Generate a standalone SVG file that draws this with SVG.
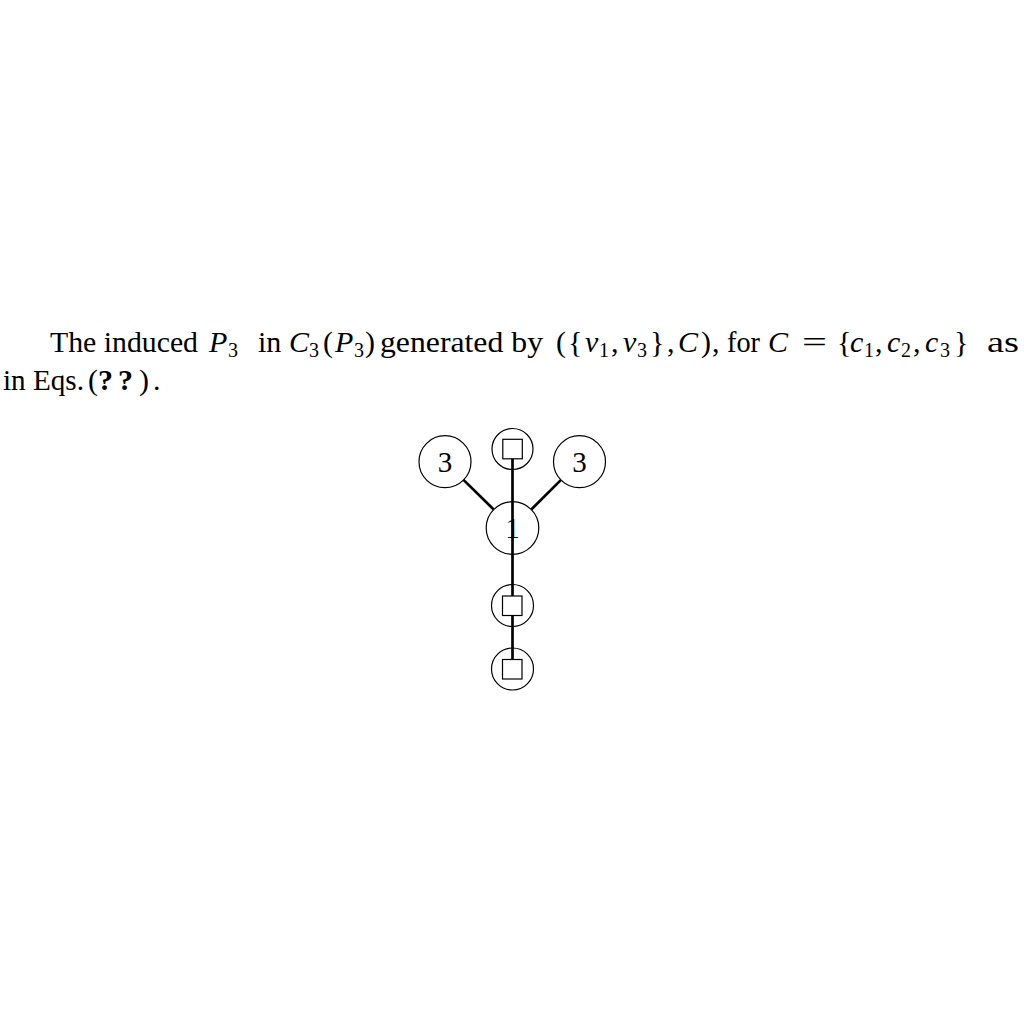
<svg xmlns="http://www.w3.org/2000/svg" width="1024" height="1024" viewBox="0 0 1024 1024">
<style>
.t{font-family:"Liberation Serif","DejaVu Serif",serif;font-size:30px;fill:#000}
.i{font-style:italic}
.s{font-size:20px}
.b{font-weight:bold}
.n{fill:none;stroke:#000;stroke-width:1.2}
.sq{fill:#fff;stroke:#000;stroke-width:1.2}
.e{stroke:#000;stroke-width:2.7;fill:none}
.lbl{font-family:"Liberation Serif","DejaVu Serif",serif;font-size:29px;text-anchor:middle;fill:#000}
</style>
<rect width="1024" height="1024" fill="#fff"/>
<g id="caption" class="t">
<text x="50" y="352" textLength="148" lengthAdjust="spacingAndGlyphs">The induced</text>
<text x="209" y="352" class="i">P</text>
<text x="228" y="357" class="s">3</text>
<text x="258" y="352">in</text>
<text x="289" y="352" class="i">C</text>
<text x="309" y="357" class="s">3</text>
<text x="323" y="352">(</text>
<text x="335" y="352" class="i">P</text>
<text x="354" y="357" class="s">3</text>
<text x="365" y="352">)</text>
<text x="380" y="352" textLength="163" lengthAdjust="spacingAndGlyphs">generated by</text>
<text x="556" y="352">(</text>
<text x="568" y="352">{</text>
<text x="585" y="352" class="i">v</text>
<text x="599" y="357" class="s">1</text>
<text x="611" y="352">,</text>
<text x="623" y="352" class="i">v</text>
<text x="637" y="357" class="s">3</text>
<text x="650" y="352">}</text>
<text x="667" y="352">,</text>
<text x="678" y="352" class="i">C</text>
<text x="701" y="352">)</text>
<text x="712" y="352">,</text>
<text x="727" y="352" textLength="33" lengthAdjust="spacingAndGlyphs">for</text>
<text x="768" y="352" class="i">C</text>
<text x="802" y="352" textLength="25" lengthAdjust="spacingAndGlyphs">=</text>
<text x="837" y="352">{</text>
<text x="850" y="352" class="i">c</text>
<text x="864" y="357" class="s">1</text>
<text x="875" y="352">,</text>
<text x="887" y="352" class="i">c</text>
<text x="901" y="357" class="s">2</text>
<text x="913" y="352">,</text>
<text x="925" y="352" class="i">c</text>
<text x="940" y="357" class="s">3</text>
<text x="954" y="352">}</text>
<text x="987" y="352" textLength="32" lengthAdjust="spacingAndGlyphs">as</text>
<text x="3" y="390" textLength="81" lengthAdjust="spacingAndGlyphs">in Eqs.</text>
<text x="88" y="390">(</text>
<text x="98" y="390" class="b">?</text>
<text x="118" y="390" class="b">?</text>
<text x="139" y="390">)</text>
<text x="153" y="390">.</text>
</g>
<g id="connectors">
<line class="e" x1="512.5" y1="449" x2="512.5" y2="669"/>
<line class="e" stroke-width="2.2" x1="463.5" y1="479.9" x2="493.7" y2="509.5"/>
<line class="e" stroke-width="2.2" x1="561" y1="479.9" x2="531.3" y2="509.5"/>
</g>
<g id="node-left">
<circle class="n" cx="445" cy="461.7" r="26"/>
<text class="lbl" x="445" y="471.5">3</text>
</g>
<g id="node-right">
<circle class="n" cx="579.5" cy="461.7" r="26"/>
<text class="lbl" x="579.5" y="471.5">3</text>
</g>
<g id="node-top">
<circle class="n" cx="512.5" cy="449" r="20.5"/>
<rect class="sq" x="502.8" y="439.3" width="19.5" height="19.5"/>
</g>
<g id="node-center">
<circle class="n" cx="512.5" cy="528" r="26.3"/>
<text class="lbl" x="512.5" y="537.5">1</text>
</g>
<g id="node-middle">
<circle class="n" cx="512.5" cy="605.5" r="21"/>
<rect class="sq" x="502.5" y="596" width="19.5" height="19.5"/>
</g>
<g id="node-bottom">
<circle class="n" cx="512.5" cy="669" r="21"/>
<rect class="sq" x="502.5" y="659.5" width="19.5" height="19.5"/>
</g>
</svg>
